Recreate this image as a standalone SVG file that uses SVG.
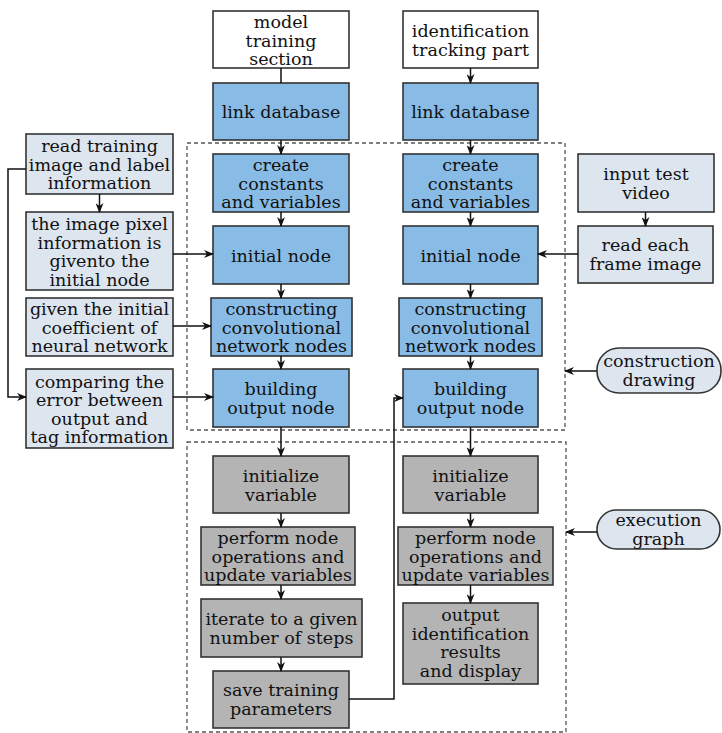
<svg xmlns="http://www.w3.org/2000/svg" width="722" height="733" viewBox="0 0 722 733">
<style>
rect, .pill { stroke: #333; stroke-width: 1.6; }
.w { fill: #ffffff; }
.b { fill: #88bce6; }
.l { fill: #dde5ef; }
.g { fill: #b4b4b4; }
.dash { fill: none; stroke: #555; stroke-width: 1.3; stroke-dasharray: 4 3; }
text { font-family: "DejaVu Serif", "Liberation Serif", serif; font-size: 17.5px; fill: #111; text-anchor: middle; }
.c { fill: none; stroke: #111; stroke-width: 1.5; }
</style>
<defs>
<marker id="ar" markerWidth="10" markerHeight="8" refX="9" refY="4" orient="auto" markerUnits="userSpaceOnUse">
<path d="M0,0 L10,4 L0,8 L3,4 z" fill="#111"/>
</marker>
</defs>
<rect x="187" y="143" width="378" height="287" class="dash"/>
<rect x="187" y="442" width="379" height="290" class="dash"/>
<g id="model-training"><rect x="213" y="11" width="136" height="57" class="w"/><text x="281" y="28">model</text><text x="281" y="46.5">training</text><text x="281" y="65">section</text></g>
<g id="ident-tracking"><rect x="403" y="11" width="135" height="57" class="w"/><text x="470.5" y="37">identification</text><text x="470.5" y="55.5">tracking part</text></g>
<g id="link-db-l"><rect x="213" y="83" width="136" height="57" class="b"/><text x="281" y="118">link database</text></g>
<g id="link-db-r"><rect x="403" y="83" width="135" height="57" class="b"/><text x="470.5" y="118">link database</text></g>
<g id="create-l"><rect x="213" y="154" width="136" height="58" class="b"/><text x="281" y="171">create</text><text x="281" y="189.5">constants</text><text x="281" y="208">and variables</text></g>
<g id="create-r"><rect x="403" y="154" width="135" height="58" class="b"/><text x="470.5" y="171">create</text><text x="470.5" y="189.5">constants</text><text x="470.5" y="208">and variables</text></g>
<g id="init-l"><rect x="213" y="226" width="136" height="58" class="b"/><text x="281" y="261.5">initial node</text></g>
<g id="init-r"><rect x="403" y="226" width="135" height="58" class="b"/><text x="470.5" y="261.5">initial node</text></g>
<g id="conv-l"><rect x="211" y="298" width="141" height="58" class="b"/><text x="281.5" y="315">constructing</text><text x="281.5" y="333.5">convolutional</text><text x="281.5" y="352">network nodes</text></g>
<g id="conv-r"><rect x="399" y="298" width="143" height="58" class="b"/><text x="470.5" y="315">constructing</text><text x="470.5" y="333.5">convolutional</text><text x="470.5" y="352">network nodes</text></g>
<g id="build-l"><rect x="213" y="369" width="136" height="58" class="b"/><text x="281" y="395">building</text><text x="281" y="413.5">output node</text></g>
<g id="build-r"><rect x="403" y="369" width="135" height="58" class="b"/><text x="470.5" y="395">building</text><text x="470.5" y="413.5">output node</text></g>
<g id="read-train"><rect x="26" y="134" width="147" height="60" class="l"/><text x="99.5" y="152">read training</text><text x="99.5" y="170.5">image and label</text><text x="99.5" y="189">information</text></g>
<g id="pixel-info"><rect x="26" y="212" width="147" height="78" class="l"/><text x="99.5" y="230">the image pixel</text><text x="99.5" y="248.5">information is</text><text x="99.5" y="267">givento the</text><text x="99.5" y="285.5">initial node</text></g>
<g id="coef"><rect x="26" y="298" width="147" height="58" class="l"/><text x="99.5" y="315">given the initial</text><text x="99.5" y="333.5">coefficient of</text><text x="99.5" y="352">neural network</text></g>
<g id="compare"><rect x="26" y="369" width="147" height="79" class="l"/><text x="99.5" y="387.5">comparing the</text><text x="99.5" y="406">error between</text><text x="99.5" y="424.5">output and</text><text x="99.5" y="443">tag information</text></g>
<g id="input-video"><rect x="578" y="154" width="136" height="58" class="l"/><text x="646" y="180">input test</text><text x="646" y="198.5">video</text></g>
<g id="read-frame"><rect x="578" y="226" width="135" height="57" class="l"/><text x="645.5" y="251">read each</text><text x="645.5" y="269.5">frame image</text></g>
<g id="constr-draw"><rect x="597" y="348" width="124" height="45" rx="22" ry="22" class="l"/><text x="659" y="367">construction</text><text x="659" y="385.5">drawing</text></g>
<g id="exec-graph"><rect x="597" y="510" width="123" height="39" rx="19.5" ry="19.5" class="l"/><text x="658.5" y="526">execution</text><text x="658.5" y="544.5">graph</text></g>
<g id="initv-l"><rect x="213" y="456" width="136" height="57" class="g"/><text x="281" y="482">initialize</text><text x="281" y="500.5">variable</text></g>
<g id="initv-r"><rect x="403" y="456" width="135" height="57" class="g"/><text x="470.5" y="482">initialize</text><text x="470.5" y="500.5">variable</text></g>
<g id="perform-l"><rect x="201" y="527" width="154" height="58" class="g"/><text x="278" y="544">perform node</text><text x="278" y="562.5">operations and</text><text x="278" y="581">update variables</text></g>
<g id="perform-r"><rect x="398" y="527" width="155" height="58" class="g"/><text x="475.5" y="544">perform node</text><text x="475.5" y="562.5">operations and</text><text x="475.5" y="581">update variables</text></g>
<g id="iterate"><rect x="201" y="599" width="161" height="58" class="g"/><text x="281.5" y="625">iterate to a given</text><text x="281.5" y="643.5">number of steps</text></g>
<g id="output-id"><rect x="403" y="603" width="135" height="81" class="g"/><text x="470.5" y="621">output</text><text x="470.5" y="639.5">identification</text><text x="470.5" y="658">results</text><text x="470.5" y="676.5">and display</text></g>
<g id="save"><rect x="213" y="671" width="136" height="57" class="g"/><text x="281" y="696">save training</text><text x="281" y="714.5">parameters</text></g>
<g id="connectors">
<path class="c" d="M281,68 V83"/>
<path class="c" d="M470.5,68 V83" marker-end="url(#ar)"/>
<path class="c" d="M281,140 V154" marker-end="url(#ar)"/>
<path class="c" d="M470.5,140 V154" marker-end="url(#ar)"/>
<path class="c" d="M281,212 V226" marker-end="url(#ar)"/>
<path class="c" d="M470.5,212 V226" marker-end="url(#ar)"/>
<path class="c" d="M281,284 V298" marker-end="url(#ar)"/>
<path class="c" d="M470.5,284 V298" marker-end="url(#ar)"/>
<path class="c" d="M281,356 V369" marker-end="url(#ar)"/>
<path class="c" d="M470.5,356 V369" marker-end="url(#ar)"/>
<path class="c" d="M281,427 V456" marker-end="url(#ar)"/>
<path class="c" d="M470.5,427 V456" marker-end="url(#ar)"/>
<path class="c" d="M281,513 V527" marker-end="url(#ar)"/>
<path class="c" d="M470.5,513 V527" marker-end="url(#ar)"/>
<path class="c" d="M281,585 V599" marker-end="url(#ar)"/>
<path class="c" d="M470.5,585 V603" marker-end="url(#ar)"/>
<path class="c" d="M281,657 V671" marker-end="url(#ar)"/>
<path class="c" d="M99.5,194 V212" marker-end="url(#ar)"/>
<path class="c" d="M26,169 H8 V397 H26" marker-end="url(#ar)"/>
<path class="c" d="M173,254 H213" marker-end="url(#ar)"/>
<path class="c" d="M173,326 H211" marker-end="url(#ar)"/>
<path class="c" d="M173,397 H213" marker-end="url(#ar)"/>
<path class="c" d="M645.5,212 V226" marker-end="url(#ar)"/>
<path class="c" d="M578,254 H538" marker-end="url(#ar)"/>
<path class="c" d="M597,371 H565" marker-end="url(#ar)"/>
<path class="c" d="M597,532 H566" marker-end="url(#ar)"/>
<path class="c" d="M349,699 H394 V398 H403" marker-end="url(#ar)"/>
</g>
</svg>
